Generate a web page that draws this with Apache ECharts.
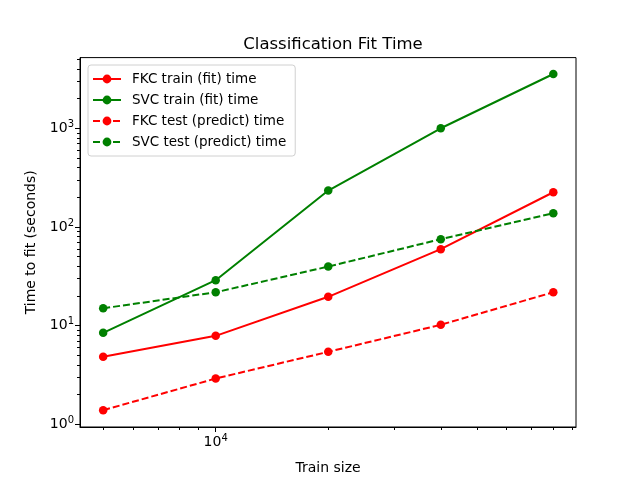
<!DOCTYPE html>
<html>
<head>
<meta charset="utf-8">
<script src="https://cdn.jsdelivr.net/npm/echarts@6/dist/echarts.min.js"></script>
<style>
  html, body { margin: 0; padding: 0; background: #fff; }
  #chart { width: 640px; height: 480px; }
</style>
</head>
<body>
<div id="chart"></div>
<script>
// 训练集大小 (x)
var trainSizes = [5000, 10000, 20000, 40000, 80000];
// 各系列耗时 (秒)
var fkcTrain = [4.83, 7.88, 19.6, 59.6, 225];
var svcTrain = [8.45, 28.9, 234, 1002, 3557];
var fkcTest = [1.39, 2.91, 5.43, 10.2, 21.8];
var svcTest = [15.0, 21.8, 39.7, 75.2, 138];
// 刻度
var xMajorTicks = [10000];
var xMinorTicks = [5000, 6000, 7000, 8000, 9000, 20000, 30000, 40000, 50000, 60000, 70000, 80000, 90000];
var yMajorTicks = [1, 10, 100, 1000];
var yMinorTicks = [2, 3, 4, 5, 6, 7, 8, 9, 20, 30, 40, 50, 60, 70, 80, 90,
  200, 300, 400, 500, 600, 700, 800, 900, 2000, 3000, 4000, 5000];

var FONT = 'DejaVu Sans';

function pairs(ys) {
  return trainSizes.map(function (x, i) { return [x, ys[i]]; });
}

// 10^n 上标标签
function powLabel(v) {
  var e = Math.round(Math.log10(v));
  return '{b|10}{s|' + e + '}';
}
var powRich = {
  b: { fontFamily: FONT, fontSize: 14, color: '#000' },
  s: { fontFamily: FONT, fontSize: 10, color: '#000', padding: [0, 0, 8, 0] }
};

function mkSeries(name, ys, color, dashed) {
  return {
    name: name,
    type: 'line',
    data: pairs(ys),
    symbol: 'circle',
    symbolSize: 8.5,
    color: color,
    itemStyle: { color: color },
    lineStyle: { color: color, width: 2, type: dashed ? [7, 3] : 'solid' },
    emphasis: { disabled: true },
    animation: false
  };
}

var chart = echarts.init(document.getElementById('chart'));

var xRange = { min: 4335, max: 92000 };
var yRange = { min: 0.939, max: 5213 };

var option = {
  backgroundColor: '#fff',
  animation: false,
  title: {
    text: 'Classification Fit Time',
    left: 328, top: 31, textAlign: 'center',
    textStyle: { fontFamily: FONT, fontSize: 16.5, fontWeight: 'normal', color: '#000' }
  },
  legend: {
    orient: 'vertical',
    left: 88, top: 65,
    itemWidth: 28, itemHeight: 11,
    itemGap: 7,
    padding: [7, 9, 7, 4],
    backgroundColor: 'rgba(255,255,255,0.8)',
    borderColor: '#d0d0d0', borderWidth: 1, borderRadius: 3,
    textStyle: { fontFamily: FONT, fontSize: 13.5, color: '#000', padding: [0, 0, 0, 6] },
    data: ['FKC train (fit) time', 'SVC train (fit) time', 'FKC test (predict) time', 'SVC test (predict) time']
  },
  grid: {
    left: 80, right: 64, top: 57.6, bottom: 52.8,
    show: true, borderColor: '#000', borderWidth: 1
  },
  xAxis: [{
    type: 'log', logBase: 10, min: xRange.min, max: xRange.max,
    name: 'Train size', nameLocation: 'middle', nameGap: 34,
    nameTextStyle: { fontFamily: FONT, fontSize: 14, color: '#000' },
    axisLine: { show: true, lineStyle: { color: '#000', width: 1 } },
    axisTick: { show: true, length: 5, lineStyle: { color: '#000' }, customValues: xMajorTicks },
    axisLabel: { show: true, margin: 6, customValues: xMajorTicks, formatter: powLabel, rich: powRich },
    splitLine: { show: false }
  }, {
    type: 'log', logBase: 10, min: xRange.min, max: xRange.max, position: 'bottom',
    axisLine: { show: false },
    axisTick: { show: true, length: 3, lineStyle: { color: '#000' }, customValues: xMinorTicks },
    axisLabel: { show: false },
    splitLine: { show: false }
  }],
  yAxis: [{
    type: 'log', logBase: 10, min: yRange.min, max: yRange.max,
    name: 'Time to fit (seconds)', nameLocation: 'middle', nameGap: 42, nameRotate: 90,
    nameTextStyle: { fontFamily: FONT, fontSize: 14, color: '#000' },
    axisLine: { show: true, lineStyle: { color: '#000', width: 1 } },
    axisTick: { show: true, length: 5, lineStyle: { color: '#000' }, customValues: yMajorTicks },
    axisLabel: { show: true, margin: 6, customValues: yMajorTicks, formatter: powLabel, rich: powRich },
    splitLine: { show: false }
  }, {
    type: 'log', logBase: 10, min: yRange.min, max: yRange.max, position: 'left',
    axisLine: { show: false },
    axisTick: { show: true, length: 3, lineStyle: { color: '#000' }, customValues: yMinorTicks },
    axisLabel: { show: false },
    splitLine: { show: false }
  }],
  series: [
    mkSeries('FKC train (fit) time', fkcTrain, '#ff0000', false),
    mkSeries('SVC train (fit) time', svcTrain, '#008000', false),
    mkSeries('FKC test (predict) time', fkcTest, '#ff0000', true),
    mkSeries('SVC test (predict) time', svcTest, '#008000', true)
  ]
};

chart.setOption(option);
</script>
</body>
</html>
